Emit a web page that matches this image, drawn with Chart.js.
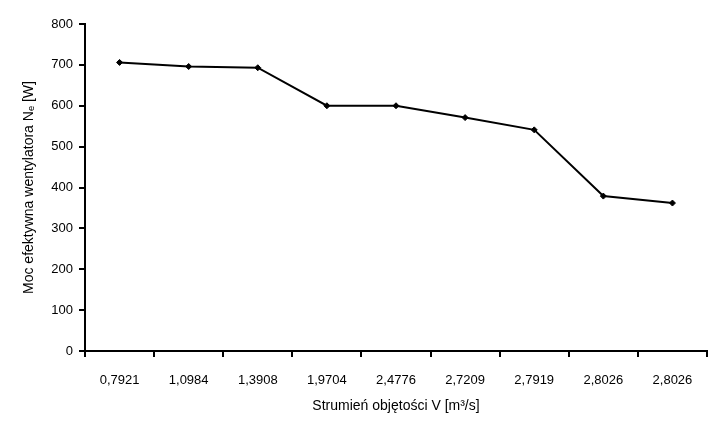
<!DOCTYPE html>
<html>
<head>
<meta charset="utf-8">
<script src="https://cdn.jsdelivr.net/npm/chart.js@4"></script>
<style>
  html, body { margin:0; padding:0; background:#fff; }
  #wrap { width:712px; height:434px; }
</style>
</head>
<body>
<div id="wrap"><canvas id="chart" width="712" height="434"></canvas></div>
<script>
// kategorie osi X (strumień objętości) i moc wentylatora
const strumien = ['0,7921', '1,0984', '1,3908', '1,9704', '2,4776', '2,7209', '2,7919', '2,8026', '2,8026'];
const moc      = [706, 696, 693, 600, 600, 571, 541, 379, 362];
const yTicks   = [0, 100, 200, 300, 400, 500, 600, 700, 800];

const font = { family: '"Liberation Sans", Arial, sans-serif', size: 13 };
const titleFont = { family: '"Liberation Sans", Arial, sans-serif', size: 14 };

new Chart(document.getElementById('chart'), {
  type: 'line',
  data: {
    labels: strumien,
    datasets: [{
      data: moc,
      borderColor: '#000',
      backgroundColor: '#000',
      borderWidth: 2,
      pointStyle: 'rectRot',
      pointRadius: 3,
      pointBorderWidth: 1,
      tension: 0,
    }],
  },
  options: {
    responsive: false,
    animation: false,
    layout: { padding: { left: 15, right: 4, top: 24, bottom: 15 } },
    plugins: { legend: { display: false }, tooltip: { enabled: false } },
    scales: {
      x: {
        offset: true,
        grid: { offset: true, drawOnChartArea: false, tickLength: 6, color: '#000', lineWidth: 2 },
        border: { color: '#000', width: 2 },
        ticks: { color: '#000', font, padding: 16, maxRotation: 0 },
        title: { display: true, text: 'Strumień objętości V [m³/s]', color: '#000', font: titleFont, padding: { top: 4, bottom: 4 } },
        afterFit: s => { s.height = 68; },
      },
      y: {
        min: 0,
        max: 800,
        afterBuildTicks: s => { s.ticks = yTicks.map(v => ({ value: v })); },
        grid: { drawOnChartArea: false, tickLength: 6, color: '#000', lineWidth: 2 },
        border: { color: '#000', width: 2 },
        ticks: { color: '#000', font, padding: 6 },
        title: { display: true, text: 'Moc efektywna wentylatora Nₑ [W]', color: '#000', font: titleFont, padding: { top: 6, bottom: 4 } },
        afterFit: s => { s.width = 70; },
      },
    },
  },
});
</script>
</body>
</html>
